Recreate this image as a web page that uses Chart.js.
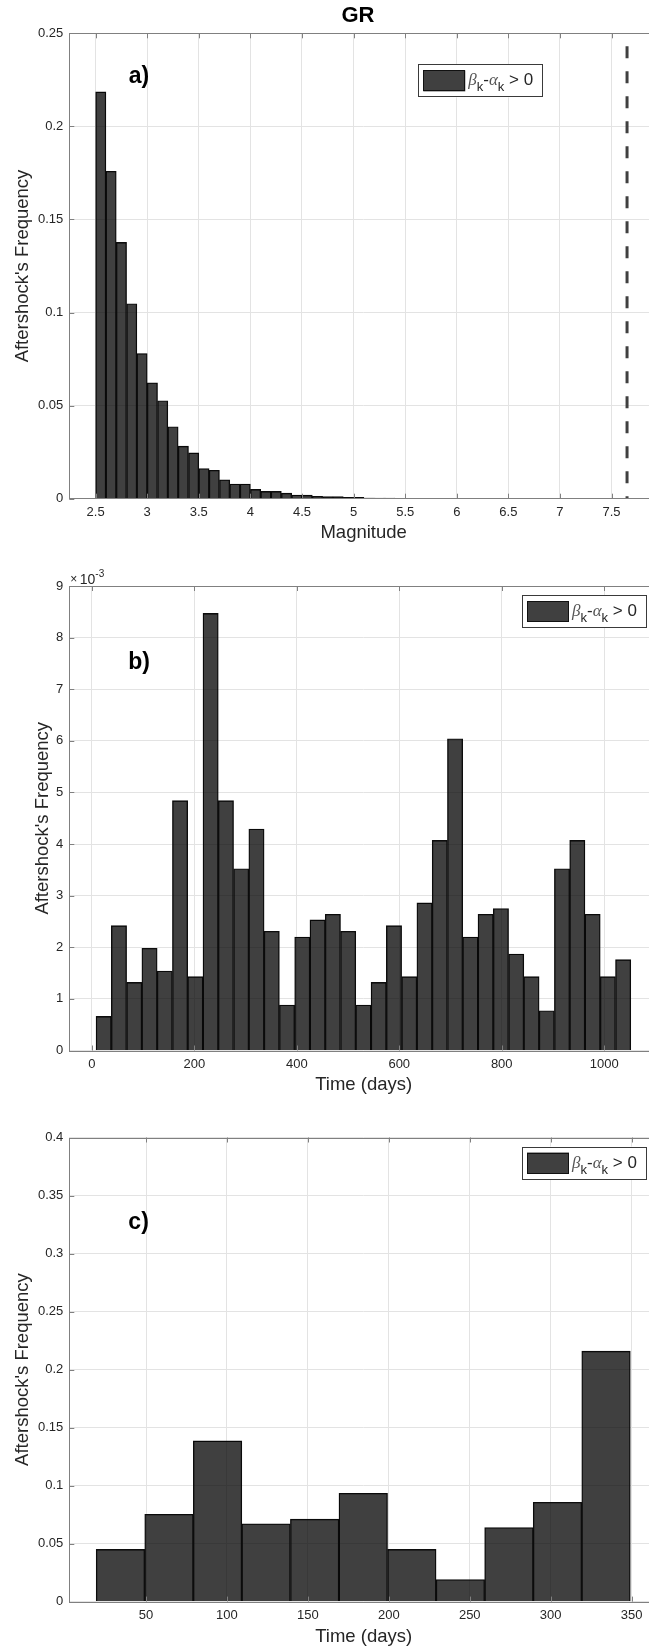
<!DOCTYPE html>
<html>
<head>
<meta charset="utf-8">
<title>GR - aftershock frequency histograms</title>
<script src="https://cdn.jsdelivr.net/npm/chart.js@4.4.1/dist/chart.umd.min.js"></script>
<style>
  html, body { margin: 0; padding: 0; background: #fff; overflow: hidden; }
  body { width: 649px; height: 1650px; position: relative; }
  .panel { position: absolute; left: 0; width: 670px; }
  .panel canvas { display: block; }
  #title {
    position: absolute; top: 4px; left: 358px; transform: translateX(-50%);
    font: bold 22px "Liberation Sans", Arial, sans-serif; line-height: 22px; color: #000;
    z-index: 2;
  }
</style>
</head>
<body>
<div id="title">GR</div>
<div class="panel" style="top:0;height:544px"><canvas id="chartA" width="670" height="544"></canvas></div>
<div class="panel" style="top:544px;height:552px"><canvas id="chartB" width="670" height="552"></canvas></div>
<div class="panel" style="top:1096px;height:554px"><canvas id="chartC" width="670" height="554"></canvas></div>

<script>
// a) magnitude histogram (bin width 0.1 starting at 2.5)
const magBinStart = 2.5;
const magBinWidth = 0.1;
const magFreq = [
  0.2185, 0.1759, 0.1377, 0.1047, 0.0780, 0.0623, 0.0526, 0.0386, 0.0282, 0.0246,
  0.0162, 0.0153, 0.0102, 0.0079, 0.0079, 0.0050, 0.0039, 0.0039, 0.0030, 0.0020,
  0.0019, 0.0013, 0.0011, 0.0011, 0.0007, 0.0007, 0.0004, 0.0003, 0.0003, 0,
  0.0002, 0.0002, 0.0002, 0.0002, 0.0002
];
const mainshockMag = 7.65;
const magTicks = [2.5, 3, 3.5, 4, 4.5, 5, 5.5, 6, 6.5, 7, 7.5];
const freqTicksA = [0, 0.05, 0.1, 0.15, 0.2, 0.25];

// b) time histogram, whole period (values in units of 1e-3)
const dayBinStartB = 8.2;
const dayBinWidthB = 29.82;
const freqB = [
  0.66, 2.42, 1.32, 1.98, 1.54, 4.84, 1.43, 8.47, 4.84, 3.52,
  4.29, 2.31, 0.88, 2.20, 2.53, 2.64, 2.31, 0.88, 1.32, 2.42,
  1.43, 2.86, 4.07, 6.04, 2.20, 2.64, 2.75, 1.87, 1.43, 0.77,
  3.52, 4.07, 2.64, 1.43, 1.76
];
const dayTicksB = [0, 200, 400, 600, 800, 1000];
const freqTicksB = [0, 1, 2, 3, 4, 5, 6, 7, 8, 9];

// c) time histogram, first year
const dayBinStartC = 19.2;
const dayBinWidthC = 30;
const freqC = [0.045, 0.0753, 0.1385, 0.0671, 0.0711, 0.0934, 0.045, 0.019, 0.0638, 0.0856, 0.2159];
const dayTicksC = [50, 100, 150, 200, 250, 300, 350];
const freqTicksC = [0, 0.05, 0.1, 0.15, 0.2, 0.25, 0.3, 0.35, 0.4];

const FONT = '"Liberation Sans", Arial, Helvetica, sans-serif';
const TXT = '#262626';
const GRID = '#e3e3e3';
const FRAME = '#808080';
const BAR_FILL = 'rgba(0,0,0,0.75)';
const BAR_EDGE = '#111';
const CANVAS_W = 670, AX_LEFT = 69.3, AX_RIGHT = 658;
const LABEL_SIZE = 18.5;

Chart.defaults.font.family = FONT;

const fmt = v => String(Math.round(v * 100) / 100);

function drawLegend(ctx, left, top) {
  const w = 125, h = 33;
  ctx.fillStyle = '#fff';
  ctx.fillRect(left, top, w, h);
  ctx.strokeStyle = '#3a3a3a';
  ctx.lineWidth = 1;
  ctx.strokeRect(Math.round(left) + 0.5, Math.round(top) + 0.5, w - 1, h - 1);
  ctx.fillStyle = BAR_FILL;
  ctx.fillRect(left + 5, top + 6, 42, 21);
  ctx.strokeStyle = BAR_EDGE;
  ctx.strokeRect(Math.round(left + 5) + 0.5, Math.round(top + 6) + 0.5, 41, 20);

  let x = left + 50;
  const base = top + 21;
  ctx.textAlign = 'left';
  ctx.textBaseline = 'alphabetic';
  const part = (text, font, color, dy) => {
    ctx.font = font;
    ctx.fillStyle = color;
    ctx.fillText(text, x, base + dy);
    x += ctx.measureText(text).width;
  };
  part('β', 'italic 17px "Liberation Serif", serif', '#555', 0);
  part('k', '13px ' + FONT, TXT, 6);
  part('-', '17px ' + FONT, TXT, 0);
  part('α', 'italic 17px "Liberation Serif", serif', '#555', 0);
  part('k', '13px ' + FONT, TXT, 6);
  part(' > 0', '17px ' + FONT, TXT, 0);
}

const matlabAxes = {
  id: 'matlabAxes',
  afterDatasetsDraw(chart, args, opts) {
    const {ctx, chartArea: a, scales: {x, y}} = chart;
    ctx.save();
    // inward tick marks
    ctx.strokeStyle = FRAME;
    ctx.lineWidth = 1;
    ctx.beginPath();
    x.ticks.forEach(t => {
      const px = Math.round(x.getPixelForValue(t.value)) + 0.5;
      ctx.moveTo(px, a.bottom); ctx.lineTo(px, a.bottom - 5);
      ctx.moveTo(px, a.top); ctx.lineTo(px, a.top + 5);
    });
    y.ticks.forEach(t => {
      const py = Math.round(y.getPixelForValue(t.value)) + 0.5;
      ctx.moveTo(a.left, py); ctx.lineTo(a.left + 5, py);
      ctx.moveTo(a.right, py); ctx.lineTo(a.right - 5, py);
    });
    ctx.stroke();
    // axes box
    ctx.strokeRect(Math.round(a.left) + 0.5, Math.round(a.top) + 0.5,
                   Math.round(a.right - a.left), Math.round(a.bottom - a.top));

    // panel letter
    ctx.fillStyle = '#000';
    ctx.font = 'bold 23px ' + FONT;
    ctx.textAlign = 'center';
    ctx.textBaseline = 'middle';
    ctx.fillText(opts.label, x.getPixelForValue(opts.labelAt[0]), y.getPixelForValue(opts.labelAt[1]));

    // legend
    if (opts.legendAt) {
      drawLegend(ctx, x.getPixelForValue(opts.legendAt[0]), y.getPixelForValue(opts.legendAt[1]));
    } else {
      drawLegend(ctx, a.right - 11 - 125, a.top + 9);
    }

    // axis exponent
    if (opts.exponent) {
      ctx.textAlign = 'left';
      ctx.textBaseline = 'alphabetic';
      ctx.fillStyle = TXT;
      ctx.font = '12px ' + FONT;
      ctx.fillText('×', a.left + 1, a.top - 3);
      ctx.font = '14px ' + FONT;
      ctx.fillText('10', a.left + 10.5, a.top - 2.5);
      ctx.font = '10px ' + FONT;
      ctx.fillText(opts.exponent, a.left + 26, a.top - 9);
    }
    ctx.restore();
  }
};

function histChart(id, g) {
  const half = LABEL_SIZE * 1.2 / 2;
  const bars = {
    type: 'bar',
    data: g.values.map((v, i) => ({x: g.binStart + g.binWidth * (i + 0.5), y: v})),
    backgroundColor: BAR_FILL,
    borderColor: BAR_EDGE,
    borderWidth: 0.7,
    borderSkipped: 'start',
    barPercentage: 1,
    categoryPercentage: 1,
    order: 2
  };
  return new Chart(document.getElementById(id), {
    type: 'bar',
    data: { datasets: [bars].concat(g.extra || []) },
    options: {
      responsive: false,
      animation: false,
      events: [],
      layout: {
        padding: { left: 0, top: g.top, right: CANVAS_W - AX_RIGHT, bottom: g.height - (g.xTitleY + half) }
      },
      plugins: {
        legend: { display: false },
        tooltip: { enabled: false },
        matlabAxes: g.annot
      },
      scales: {
        x: {
          type: 'linear',
          offset: false,
          min: g.xMin,
          max: g.xMax,
          afterBuildTicks: s => { s.ticks = g.xTicks.map(v => ({value: v})); },
          afterFit: s => { s.height = g.xTitleY + half - g.bottom; },
          grid: { color: GRID, lineWidth: 1, drawTicks: false, offset: false },
          border: { display: false },
          ticks: { padding: 6, color: TXT, font: { size: 13 }, maxRotation: 0, autoSkip: false, callback: fmt },
          title: { display: true, text: g.xTitle, color: TXT, font: { size: LABEL_SIZE }, padding: 0 }
        },
        y: {
          type: 'linear',
          min: g.yTicks[0],
          max: g.yTicks[g.yTicks.length - 1],
          afterBuildTicks: s => { s.ticks = g.yTicks.map(v => ({value: v})); },
          afterFit: s => { s.width = AX_LEFT; },
          grid: { color: GRID, lineWidth: 1, drawTicks: false },
          border: { display: false },
          ticks: { padding: 6, color: TXT, font: { size: 13 }, autoSkip: false, callback: fmt },
          title: {
            display: true, text: "Aftershock's Frequency", color: TXT,
            font: { size: LABEL_SIZE }, padding: { top: g.yTitleX - half, bottom: 0 }
          }
        }
      }
    },
    plugins: [matlabAxes]
  });
}

histChart('chartA', {
  height: 544, top: 33.3, bottom: 498.7, xTitleY: 533, yTitleX: 22.8,
  binStart: magBinStart, binWidth: magBinWidth, values: magFreq,
  xMin: 2.245, xMax: 7.95, xTicks: magTicks, yTicks: freqTicksA,
  xTitle: 'Magnitude',
  extra: [{
    type: 'line',
    data: [{x: mainshockMag, y: 0.25}, {x: mainshockMag, y: 0}],
    borderColor: '#404040',
    borderWidth: 3,
    borderDash: [12, 13],
    borderDashOffset: 12,
    pointRadius: 0,
    fill: false,
    order: 1
  }],
  annot: { label: 'a)', labelAt: [2.92, 0.2265], legendAt: [5.627, 0.2333] }
});

histChart('chartB', {
  height: 552, top: 42, bottom: 506.5, xTitleY: 541, yTitleX: 42.8,
  binStart: dayBinStartB, binWidth: dayBinWidthB, values: freqB,
  xMin: -44, xMax: 1105, xTicks: dayTicksB, yTicks: freqTicksB,
  xTitle: 'Time (days)',
  annot: { label: 'b)', labelAt: [92, 7.52], exponent: '-3' }
});

histChart('chartC', {
  height: 554, top: 41.5, bottom: 505.6, xTitleY: 540.7, yTitleX: 23.2,
  binStart: dayBinStartC, binWidth: dayBinWidthC, values: freqC,
  xMin: 2.6, xMax: 366.3, xTicks: dayTicksC, yTicks: freqTicksC,
  xTitle: 'Time (days)',
  annot: { label: 'c)', labelAt: [45.4, 0.327] }
});
</script>
</body>
</html>
